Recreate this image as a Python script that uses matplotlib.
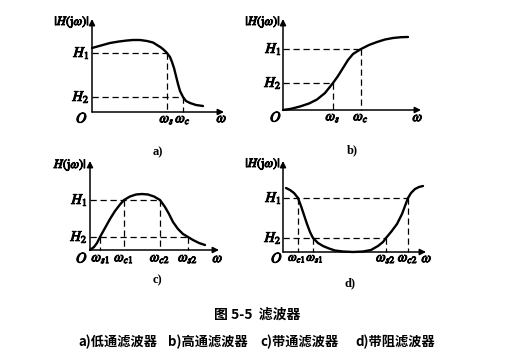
import matplotlib
matplotlib.use("Agg")
import matplotlib.pyplot as plt
import matplotlib.patheffects as pe

plt.rcParams['mathtext.fontset'] = 'stix'

# ---- data (offsets from each panel's origin) ----
# a) low-pass
a_w = [0, 9, 18, 27, 35, 41, 48, 55, 61, 65, 69, 72, 75, 78, 80, 82, 84, 86, 88, 91, 94, 98, 104, 111]
a_h = [64, 66.5, 69, 70.5, 71.5, 72, 72, 71, 69.5, 67, 64.5, 62, 59, 55, 50, 44, 36, 28, 21, 15, 11, 9, 7, 6]
a_H = [59, 15]          # H1, H2
a_ws = [75, 91]         # ws, wc

# b) high-pass
b_w = [0, 8, 17, 26, 34, 42, 50, 55, 60, 65, 70, 78, 86, 94, 102, 110, 118, 125]
b_h = [0, 1.2, 3.5, 6.5, 10.5, 17, 27, 34, 42, 50, 56, 61, 65, 68, 70.5, 72, 72.8, 73]
b_H = [61, 27]
b_ws = [50, 78]         # ws, wc

# c) band-pass
c_w = [0, 4, 7, 10, 15, 20, 25, 30, 34, 40, 46, 52, 58, 64, 70, 75, 79, 83, 88, 93, 98, 103, 109, 115]
c_h = [0, 3, 7, 13, 22, 31, 39, 45.5, 50, 53.5, 55.5, 56, 55.5, 53.5, 50, 43, 36, 28, 21, 16, 13, 10, 7, 5]
c_H = [50, 13]
c_ws = [10, 34, 70, 98]  # ws1, wc1, wc2, ws2

# d) band-stop
d_w = [3, 7, 11, 15, 18, 21, 24, 27, 30, 35, 40, 46, 52, 60, 70, 80, 88, 95, 100, 103, 108, 114, 119, 122, 125, 128, 132, 136, 140]
d_h = [64, 62, 59, 54, 46, 37, 28, 20, 14, 9, 6, 3.5, 1.5, 0.5, 0, 0.5, 2, 6, 10, 14, 20, 28, 38, 46, 54, 59, 63, 65, 66]
d_H = [54, 14]
d_ws = [15, 30, 103, 125]  # wc1, ws1, ws2, wc2

W_PX, H_PX = 528, 356
fig = plt.figure(figsize=(W_PX / 100, H_PX / 100), dpi=100)
fig.patch.set_facecolor('white')

FS = 10.5
FS_W = 10
BOLD = [pe.withStroke(linewidth=0.7, foreground='black')]


def make_ax(x0, y0, w, h):
    ax = fig.add_axes([x0 / W_PX, (H_PX - y0) / H_PX, w / W_PX, h / H_PX])
    ax.set_xlim(0, w)
    ax.set_ylim(0, h)
    ax.axis('off')
    ap = dict(arrowstyle='-|>', lw=1.1, color='black', mutation_scale=9, shrinkA=0, shrinkB=0)
    ax.annotate('', xy=(w + 1, 0), xytext=(0, 0), arrowprops=ap, annotation_clip=False)
    ax.annotate('', xy=(0, h + 1), xytext=(0, 0), arrowprops=ap, annotation_clip=False)
    return ax


def dash(ax, xs, ys):
    ax.plot(xs, ys, color='black', lw=0.9, ls=(0, (5, 3)), clip_on=False)


def curve(ax, xs, ys):
    ax.plot(xs, ys, color='black', lw=1.7, clip_on=False, solid_capstyle='round')


def txt(ax, x, y, s, ha='center', va='center', fs=FS):
    ax.text(x, y, s, ha=ha, va=va, fontsize=fs, clip_on=False, path_effects=BOLD)


# ---------- panel a ----------
ax = make_ax(92, 112, 131, 92)
curve(ax, a_w, a_h)
dash(ax, [0, a_ws[0]], [a_H[0], a_H[0]])
dash(ax, [a_ws[0], a_ws[0]], [a_H[0], 0])
dash(ax, [0, a_ws[1]], [a_H[1], a_H[1]])
dash(ax, [a_ws[1], a_ws[1]], [a_H[1], 0])
txt(ax, -2, a_H[0], r'$H_1$', ha='right')
txt(ax, -2, a_H[1], r'$H_2$', ha='right')
txt(ax, -10, -6, r'$O$')
txt(ax, a_ws[0], -7, r'$\omega_s$', fs=FS_W)
txt(ax, a_ws[1], -7, r'$\omega_c$', fs=FS_W)
txt(ax, 130, -6, r'$\omega$', fs=FS_W)
txt(ax, -2, 90, r'$|H(\mathrm{j}\omega)|$', ha='right', fs=9)
ax.text(66, -40, 'a)', ha='center', va='center', fontsize=9, family='Liberation Serif', weight='bold')

# ---------- panel b ----------
ax = make_ax(283, 110, 137, 90)
curve(ax, b_w, b_h)
dash(ax, [0, b_ws[1]], [b_H[0], b_H[0]])
dash(ax, [b_ws[1], b_ws[1]], [b_H[0], 0])
dash(ax, [0, b_ws[0]], [b_H[1], b_H[1]])
dash(ax, [b_ws[0], b_ws[0]], [b_H[1], 0])
txt(ax, -1, b_H[0], r'$H_1$', ha='right')
txt(ax, -1, b_H[1], r'$H_2$', ha='right')
txt(ax, -7, -7, r'$O$')
txt(ax, b_ws[0], -7, r'$\omega_s$', fs=FS_W)
txt(ax, b_ws[1], -7, r'$\omega_c$', fs=FS_W)
txt(ax, 135, -7, r'$\omega$', fs=FS_W)
txt(ax, -2, 88, r'$|H(\mathrm{j}\omega)|$', ha='right', fs=9)
ax.text(69, -40, 'b)', ha='center', va='center', fontsize=9, family='Liberation Serif', weight='bold')

# ---------- panel c ----------
ax = make_ax(90, 250, 128, 88)
curve(ax, c_w, c_h)
dash(ax, [0, c_ws[2]], [c_H[0], c_H[0]])
dash(ax, [c_ws[1], c_ws[1]], [c_H[0], 0])
dash(ax, [c_ws[2], c_ws[2]], [c_H[0], 0])
dash(ax, [0, c_ws[3]], [c_H[1], c_H[1]])
dash(ax, [c_ws[0], c_ws[0]], [c_H[1], 0])
dash(ax, [c_ws[3], c_ws[3]], [c_H[1], 0])
txt(ax, -2, c_H[0], r'$H_1$', ha='right')
txt(ax, -2, c_H[1], r'$H_2$', ha='right')
txt(ax, -8, -8, r'$O$')
txt(ax, c_ws[0] + 1, -8, r'$\omega_{s1}$', fs=FS_W)
txt(ax, c_ws[1], -8, r'$\omega_{c1}$', fs=FS_W)
txt(ax, c_ws[2], -8, r'$\omega_{c2}$', fs=FS_W)
txt(ax, c_ws[3], -8, r'$\omega_{s2}$', fs=FS_W)
txt(ax, 128, -8, r'$\omega$', fs=FS_W)
txt(ax, -3, 85, r'$H(\mathrm{j}\omega)|$', ha='right', fs=9)
ax.text(67, -30, 'c)', ha='center', va='center', fontsize=9, family='Liberation Serif', weight='bold')

# ---------- panel d ----------
ax = make_ax(283, 252, 142, 90)
curve(ax, d_w, d_h)
dash(ax, [0, d_ws[3]], [d_H[0], d_H[0]])
dash(ax, [d_ws[0], d_ws[0]], [d_H[0], 0])
dash(ax, [d_ws[3], d_ws[3]], [d_H[0], 0])
dash(ax, [0, d_ws[2]], [d_H[1], d_H[1]])
dash(ax, [d_ws[1], d_ws[1]], [d_H[1], 0])
dash(ax, [d_ws[2], d_ws[2]], [d_H[1], 0])
txt(ax, -1, d_H[0], r'$H_1$', ha='right')
txt(ax, -1, d_H[1], r'$H_2$', ha='right')
txt(ax, -6, -6, r'$O$')
txt(ax, d_ws[0] - 1, -6, r'$\omega_{c1}$', fs=9)
txt(ax, d_ws[1] + 2, -6, r'$\omega_{s1}$', fs=9)
txt(ax, d_ws[2], -6, r'$\omega_{s2}$', fs=FS_W)
txt(ax, d_ws[3], -6, r'$\omega_{c2}$', fs=FS_W)
txt(ax, 144, -6, r'$\omega$', fs=FS_W)
txt(ax, -2, 88, r'$|H(\mathrm{j}\omega)|$', ha='right', fs=9)
ax.text(67, -31, 'd)', ha='center', va='center', fontsize=9, family='Liberation Serif', weight='bold')

# ---------- captions ----------
cjk = ['Noto Sans CJK SC', 'DejaVu Sans']
fig.text(257 / W_PX, 1 - 315 / H_PX, '图 5-5  滤波器', ha='center', va='center',
         fontsize=10, family=cjk, weight='bold')
sub_labels = ['a)低通滤波器', 'b)高通滤波器', 'c)带通滤波器', 'd)带阻滤波器']
sub_x = [78, 168, 260, 355]
for s, x in zip(sub_labels, sub_x):
    fig.text(x / W_PX, 1 - 342 / H_PX, s, ha='left', va='center',
             fontsize=9.5, family=cjk, weight='bold')

fig.savefig('out.png', dpi=100, facecolor='white')
